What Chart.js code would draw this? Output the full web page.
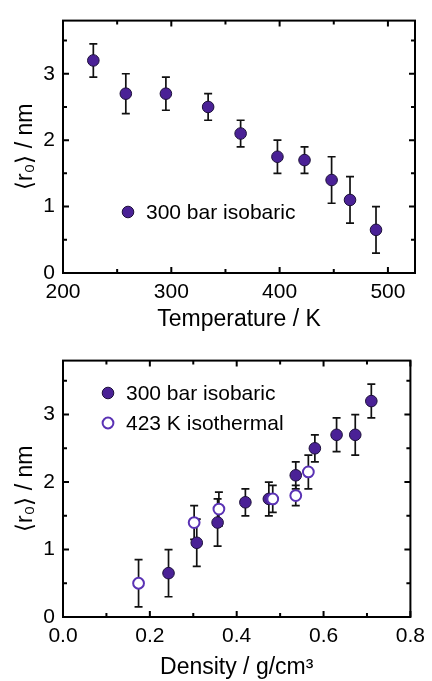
<!DOCTYPE html>
<html>
<head>
<meta charset="utf-8">
<script src="https://cdn.jsdelivr.net/npm/chart.js@4"></script>
<style>
html, body { margin: 0; padding: 0; background: #fff; }
.box { width: 432px; position: relative; }
</style>
</head>
<body>
<div class="box" style="height:340px"><canvas id="chart-temperature" width="432" height="340"></canvas></div>
<div class="box" style="height:341px"><canvas id="chart-density" width="432" height="341"></canvas></div>
<script>
// 300 bar isobaric: mean radius vs temperature (top) and vs density (bottom)
const isobarTemp = [228, 258, 295, 334, 364, 398, 423, 448, 465, 489];
const isobarDensity = [0.710, 0.673, 0.630, 0.580, 0.536, 0.474, 0.420, 0.356, 0.308, 0.243];
const isobarRadius = [3.2, 2.7, 2.7, 2.5, 2.1, 1.75, 1.7, 1.4, 1.1, 0.65];
const isobarErr = [0.25, 0.3, 0.25, 0.2, 0.2, 0.25, 0.2, 0.35, 0.35, 0.35];

// 423 K isothermal (bottom only)
const isothermDensity = [0.174, 0.302, 0.359, 0.483, 0.536, 0.565];
const isothermRadius = [0.5, 1.4, 1.6, 1.75, 1.8, 2.15];
const isothermErr = [0.35, 0.25, 0.25, 0.2, 0.15, 0.25];

// tick marks
const tempTicks = [200, 300, 400, 500];
const tempMinor = [250, 350, 450];
const densityTicks = [0.0, 0.2, 0.4, 0.6, 0.8];
const densityMinor = [0.1, 0.3, 0.5, 0.7];
const radiusTicks = [0, 1, 2, 3];
const radiusMinor = [0.5, 1.5, 2.5, 3.5];

const FONT = "'Liberation Sans', Arial, Helvetica, sans-serif";
const FILL = '#4a2196';
const OPEN = '#5a32b4';

function pts(xs, ys) {
    return xs.map((v, i) => ({ x: v, y: ys[i] }));
}

const filledStyle = {
    pointRadius: 5.8,
    pointBackgroundColor: FILL,
    pointBorderColor: '#1c0f3a',
    pointBorderWidth: 1
};
const openStyle = {
    pointRadius: 5.4,
    pointBackgroundColor: '#ffffff',
    pointBorderColor: OPEN,
    pointBorderWidth: 2
};

// error bars, drawn under the markers
const errorBars = {
    id: 'errorBars',
    beforeDatasetsDraw(chart) {
        const { ctx, scales: { x, y } } = chart;
        ctx.save();
        ctx.strokeStyle = '#111';
        ctx.lineWidth = 1.7;
        chart.data.datasets.forEach(ds => {
            ds.data.forEach((p, i) => {
                const e = ds.errors[i];
                const px = x.getPixelForValue(p.x);
                const y1 = y.getPixelForValue(p.y + e);
                const y2 = y.getPixelForValue(p.y - e);
                ctx.beginPath();
                ctx.moveTo(px, y1); ctx.lineTo(px, y2);
                ctx.moveTo(px - 4, y1); ctx.lineTo(px + 4, y1);
                ctx.moveTo(px - 4, y2); ctx.lineTo(px + 4, y2);
                ctx.stroke();
            });
        });
        ctx.restore();
    }
};

// box frame with inward ticks on all four sides
const frameTicks = {
    id: 'frameTicks',
    afterDatasetsDraw(chart, args, opts) {
        const { ctx, chartArea: a, scales: { x, y } } = chart;
        ctx.save();
        ctx.strokeStyle = '#000';
        ctx.lineWidth = 2;
        ctx.beginPath();
        const xm = (vals, len) => vals.forEach(v => {
            const px = x.getPixelForValue(v);
            ctx.moveTo(px, a.bottom); ctx.lineTo(px, a.bottom - len);
            ctx.moveTo(px, a.top); ctx.lineTo(px, a.top + len);
        });
        const ym = (vals, len) => vals.forEach(v => {
            const py = y.getPixelForValue(v);
            ctx.moveTo(a.left, py); ctx.lineTo(a.left + len, py);
            ctx.moveTo(a.right, py); ctx.lineTo(a.right - len, py);
        });
        xm(opts.xMajor, 6); xm(opts.xMinor, 4);
        ym(opts.yMajor, 6); ym(opts.yMinor, 4);
        ctx.stroke();
        ctx.strokeRect(a.left, a.top, a.right - a.left, a.bottom - a.top);
        ctx.restore();
    }
};

// legend inside the plot
const insideLegend = {
    id: 'insideLegend',
    afterDraw(chart, args, opts) {
        const ctx = chart.ctx;
        ctx.save();
        ctx.font = '21px ' + FONT;
        ctx.textBaseline = 'middle';
        ctx.fillStyle = '#000';
        opts.rows.forEach((row, i) => {
            const ds = chart.data.datasets[row.dataset];
            const cy = opts.y + i * opts.gap;
            ctx.beginPath();
            ctx.arc(opts.x, cy, ds.pointRadius, 0, Math.PI * 2);
            ctx.fillStyle = ds.pointBackgroundColor;
            ctx.fill();
            ctx.lineWidth = ds.pointBorderWidth;
            ctx.strokeStyle = ds.pointBorderColor;
            ctx.stroke();
            ctx.fillStyle = '#000';
            ctx.fillText(ds.label, opts.x + 18, cy + 1);
        });
        ctx.restore();
    }
};

function axisOptions(cfg) {
    return {
        x: {
            type: 'linear',
            min: cfg.xMin,
            max: cfg.xMax,
            afterFit(s) { s.height = cfg.xHeight; },
            afterBuildTicks(s) { s.ticks = cfg.xTicks.map(v => ({ value: v })); },
            grid: { display: false, drawTicks: false },
            border: { display: false },
            ticks: {
                padding: 7,
                color: '#000',
                autoSkip: false,
                maxRotation: 0,
                font: { size: 21, family: FONT },
                callback: cfg.xFormat
            },
            title: {
                display: true,
                text: cfg.xTitle,
                color: '#000',
                font: { size: 23, family: FONT },
                padding: { top: 0, bottom: cfg.xTitlePad }
            }
        },
        y: {
            type: 'linear',
            min: 0,
            max: 3.8,
            afterFit(s) { s.width = 63; },
            afterBuildTicks(s) { s.ticks = radiusTicks.map(v => ({ value: v })); },
            grid: { display: false, drawTicks: false },
            border: { display: false },
            ticks: {
                padding: 8,
                color: '#000',
                font: { size: 21, family: FONT }
            },
            title: {
                display: true,
                text: '⟨r₀⟩ / nm',
                color: '#000',
                font: { size: 23, family: FONT },
                padding: { top: 12, bottom: 0 }
            }
        }
    };
}

const ctxTemp = document.getElementById('chart-temperature');
if (ctxTemp) {
    new Chart(ctxTemp, {
        type: 'scatter',
        data: {
            datasets: [
                Object.assign({
                    label: '300 bar isobaric',
                    data: pts(isobarTemp, isobarRadius),
                    errors: isobarErr
                }, filledStyle)
            ]
        },
        options: {
            responsive: false,
            animation: false,
            events: [],
            layout: { padding: { top: 13, right: 17, left: 0, bottom: 0 } },
            scales: axisOptions({
                xMin: 200, xMax: 525, xHeight: 67, xTicks: tempTicks,
                xFormat: v => v, xTitle: 'Temperature / K', xTitlePad: 7
            }),
            plugins: {
                legend: { display: false },
                tooltip: { enabled: false },
                frameTicks: { xMajor: tempTicks, xMinor: tempMinor, yMajor: radiusTicks, yMinor: radiusMinor },
                insideLegend: { x: 128, y: 212, gap: 30, rows: [{ dataset: 0 }] }
            }
        },
        plugins: [errorBars, frameTicks, insideLegend]
    });
}

const ctxDens = document.getElementById('chart-density');
if (ctxDens) {
    new Chart(ctxDens, {
        type: 'scatter',
        data: {
            datasets: [
                Object.assign({
                    label: '300 bar isobaric',
                    data: pts(isobarDensity, isobarRadius),
                    errors: isobarErr,
                    order: 1
                }, filledStyle),
                Object.assign({
                    label: '423 K isothermal',
                    data: pts(isothermDensity, isothermRadius),
                    errors: isothermErr,
                    order: 0
                }, openStyle)
            ]
        },
        options: {
            responsive: false,
            animation: false,
            events: [],
            layout: { padding: { top: 19, right: 17, left: 0, bottom: 0 } },
            scales: axisOptions({
                xMin: 0, xMax: 0.8, xHeight: 64, xTicks: densityTicks,
                xFormat: v => Number(v).toFixed(1), xTitle: 'Density / g/cm³', xTitlePad: 0
            }),
            plugins: {
                legend: { display: false },
                tooltip: { enabled: false },
                frameTicks: { xMajor: densityTicks, xMinor: densityMinor, yMajor: radiusTicks, yMinor: radiusMinor },
                insideLegend: { x: 108, y: 53, gap: 30, rows: [{ dataset: 0 }, { dataset: 1 }] }
            }
        },
        plugins: [errorBars, frameTicks, insideLegend]
    });
}
</script>
</body>
</html>
